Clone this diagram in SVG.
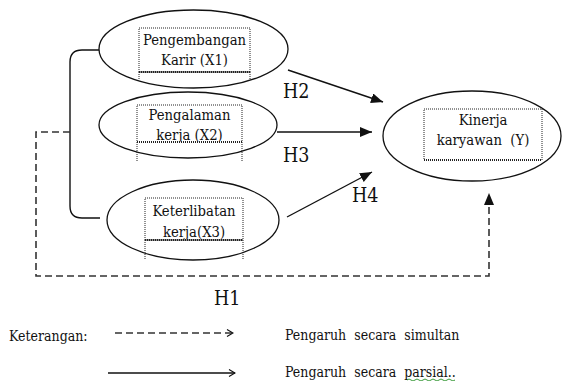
<svg xmlns="http://www.w3.org/2000/svg" width="581" height="381" viewBox="0 0 581 381" font-family="'DejaVu Serif Condensed', 'DejaVu Serif', serif">
<defs>
<marker id="ah" markerWidth="12" markerHeight="10" refX="12" refY="5" orient="auto" markerUnits="userSpaceOnUse"><path d="M0,0 L12,5 L0,10 z" fill="#111"/></marker>
<marker id="op" markerWidth="8" markerHeight="8" refX="7" refY="4" orient="auto" markerUnits="userSpaceOnUse"><path d="M1,0.5 L7,4 L1,7.5" fill="none" stroke="#111" stroke-width="1.2"/></marker>
<clipPath id="c2"><rect x="130" y="100" width="120" height="41.5"/></clipPath>
<clipPath id="c3"><rect x="140" y="195" width="110" height="44"/></clipPath>
</defs>
<style>
.el{fill:none;stroke:#111;stroke-width:1.3}
.box{fill:none;stroke:#222;stroke-width:1;stroke-dasharray:1 1}
.bb{fill:none;stroke:#222;stroke-width:2;stroke-dasharray:1 1}
.t{font-size:14.7px;fill:#111;text-anchor:middle}
.l{font-size:14px;fill:#111}
.h{font-size:19.5px;fill:#111}
.solid{fill:none;stroke:#111;stroke-width:1.4}
.dash{fill:none;stroke:#333;stroke-width:1.6;stroke-dasharray:7 4}
</style>
<rect width="581" height="381" fill="#fff"/>
<g id="x1">
<ellipse class="el" cx="193.5" cy="49" rx="94.5" ry="39"/>
<rect class="box" x="139" y="28" width="111" height="44"/>
<path class="bb" d="M139,72 H250"/>
<path class="box" d="M139,72 V80 M250,72 V80"/>
<text class="t" x="194.5" y="45">Pengembangan</text>
<text class="t" x="194.5" y="65">Karir (X1)</text>
</g>
<g id="x2">
<ellipse class="el" cx="188" cy="125" rx="89" ry="33"/>
<rect class="box" x="137" y="105" width="105" height="37"/>
<path class="bb" d="M137,142 H242"/>
<path class="box" d="M137,142 V162 M242,142 V162"/>
<text class="t" x="189.5" y="120">Pengalaman</text>
<text class="t" x="189.5" y="140" clip-path="url(#c2)">kerja (X2)</text>
</g>
<g id="x3">
<ellipse class="el" cx="193" cy="220" rx="86" ry="40"/>
<rect class="box" x="145" y="198" width="98" height="42"/>
<path class="bb" d="M145,240 H243"/>
<path class="box" d="M145,240 V260 M243,240 V260"/>
<text class="t" x="194" y="216">Keterlibatan</text>
<text class="t" x="194" y="237" clip-path="url(#c3)">kerja(X3)</text>
</g>
<g id="y">
<ellipse class="el" cx="472" cy="136" rx="89" ry="45"/>
<rect class="box" x="424" y="109" width="118" height="51"/>
<path class="bb" d="M424,160 H542"/>
<text class="t" x="483" y="125">Kinerja</text>
<text class="t" x="483" y="145" xml:space="preserve">karyawan  (Y)</text>
</g>
<g id="connectors">
<path class="solid" d="M99,50 H82 Q70,50 70,62 V206 Q70,218 82,218 H100"/>
<line class="solid" x1="288" y1="70" x2="383" y2="102" marker-end="url(#ah)"/>
<line class="solid" x1="277" y1="132" x2="372" y2="132" marker-end="url(#ah)"/>
<line class="solid" x1="287" y1="217" x2="372" y2="172" marker-end="url(#ah)"/>
<path class="dash" d="M70,132 H36 V276 H489 V193" marker-end="url(#ah)"/>
<text class="h" x="283" y="98">H2</text>
<text class="h" x="283" y="162">H3</text>
<text class="h" x="352" y="202">H4</text>
<text class="h" x="214" y="305">H1</text>
</g>
<g id="legend">
<text class="l" x="9" y="341">Keterangan:</text>
<line class="dash" x1="115" y1="333" x2="233" y2="333" stroke-dasharray="6 4" stroke-width="1.3" marker-end="url(#op)"/>
<line class="solid" x1="108" y1="373" x2="235" y2="373" marker-end="url(#op)"/>
<text class="l" x="285" y="340" xml:space="preserve">Pengaruh  secara  simultan</text>
<text class="l" x="285" y="377" xml:space="preserve">Pengaruh  secara  parsial..</text>
<path d="M407,380 q2,-2 4,0 t4,0 t4,0 t4,0 t4,0 t4,0 t4,0 t4,0 t4,0 t4,0 t4,0 t4,0" fill="none" stroke="#3a9a3a" stroke-width="1"/>
</g>
</svg>
